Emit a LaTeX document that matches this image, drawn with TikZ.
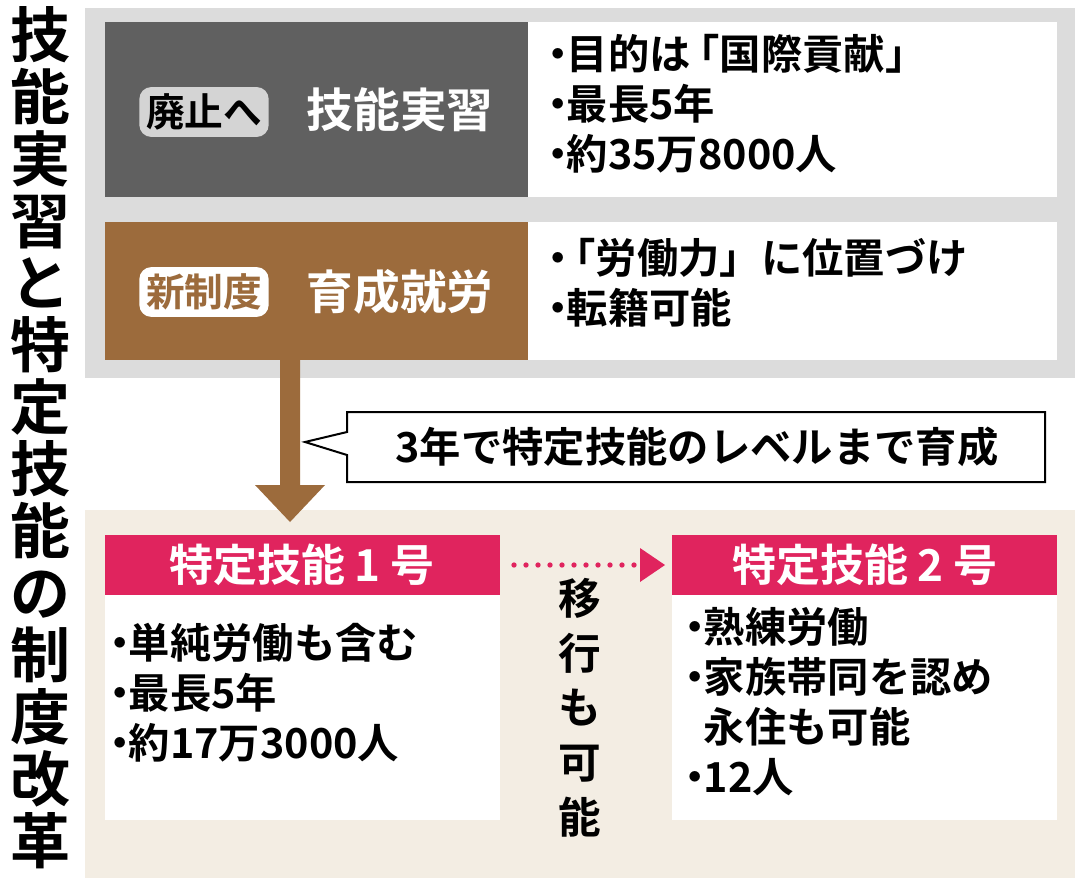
\documentclass[tikz,border=0pt]{standalone}
\usepackage{fontspec}
\newfontfamily\jp{Noto Sans CJK JP}[BoldFont={* Bold}]
\definecolor{bggray}{HTML}{DCDCDC}
\definecolor{dark}{HTML}{606060}
\definecolor{brown}{HTML}{9C6B3C}
\definecolor{beige}{HTML}{F3EDE3}
\definecolor{pink}{HTML}{E0245E}
\definecolor{lbl}{HTML}{D4D4D4}
\newcommand{\bul}{\kern-0.25em・\kern-0.3em}
\begin{document}
\begin{tikzpicture}[x=0.75pt,y=-0.75pt,
  body/.style={font=\jp\bfseries\fontsize{31}{37.5}\selectfont,align=left,anchor=north west,inner sep=0},
  head/.style={font=\jp\bfseries\fontsize{31}{36}\selectfont,text=white,inner sep=0}]
\useasboundingbox (0,0) rectangle (1080,878);
\fill[white] (0,0) rectangle (1080,878);
% title
\node[font=\jp\bfseries\fontsize{45}{46.5}\selectfont,align=center,inner sep=0,anchor=north] (title) at (40,6)
 {技\\能\\実\\習\\と\\特\\定\\技\\能\\の\\制\\度\\改\\革};
% top area
\fill[bggray] (85,8) rectangle (1075,378);
\fill[dark] (105,22) rectangle (528,197);
\fill[white] (528,22) rectangle (1057,197);
\fill[brown] (105,222) rectangle (528,360);
\fill[white] (528,222) rectangle (1057,360);
\node[fill=lbl,rounded corners=9pt,inner sep=5pt,font=\jp\bfseries\fontsize{29}{32}\selectfont] (l1) at (204,112) {廃止へ};
\node[head,font=\jp\bfseries\fontsize{35}{38}\selectfont] (h1) at (400,110) {技能実習};
\node[fill=white,text=brown,rounded corners=9pt,inner sep=5pt,font=\jp\bfseries\fontsize{29}{32}\selectfont] (l2) at (204,292) {新制度};
\node[head,font=\jp\bfseries\fontsize{35}{38}\selectfont] (h2) at (400,292) {育成就労};
\node[body] (t1) at (548,34) {\bul 目的は\kern-0.3em「国際貢献」\\\bul 最長5年\\\bul 約35万8000人};
\node[body] (t2) at (548,238) {\bul\kern-0.3em「労働力」に位置づけ\\\bul 転籍可能};
% bottom area
\fill[beige] (85,510) rectangle (1075,878);
\fill[brown] (280,360) -- (300,360) -- (300,485) -- (325,485) -- (290,522) -- (255,485) -- (280,485) -- cycle;
% callout
\draw[line width=1.5pt,fill=white] (347,412) -- (1045,412) -- (1045,482) -- (347,482) -- (347,455) -- (305,442) -- (347,432) -- cycle;
\node[font=\jp\bfseries\fontsize{31}{34}\selectfont,inner sep=0] (co) at (697,447) {3年で特定技能のレベルまで育成};
% boxes
\fill[pink] (105,535) rectangle (500,595);
\node[head,font=\jp\bfseries\fontsize{33}{36}\selectfont] (ph1) at (302,565) {特定技能 1 号};
\fill[white] (105,595) rectangle (500,820);
\node[body] (b1) at (110,623) {\bul 単純労働も含む\\\bul 最長5年\\\bul 約17万3000人};
\fill[pink] (672,535) rectangle (1057,595);
\node[head,font=\jp\bfseries\fontsize{33}{36}\selectfont] (ph2) at (865,565) {特定技能 2 号};
\fill[white] (672,595) rectangle (1057,820);
\node[body] (b2) at (685,607) {\bul 熟練労働\\\bul 家族帯同を認め\\\phantom{\bul}永住も可能\\\bul 12人};
\coordinate (d1) at (514,565);
\coordinate (d2) at (640,565);
\draw[pink,line width=4pt,dash pattern=on 0pt off 9pt,line cap=round] (d1) -- (d2);
\fill[pink] (640,548) -- (665,565) -- (640,582) -- cycle;
\node[font=\jp\bfseries\fontsize{32}{41}\selectfont,align=center,inner sep=0,anchor=north] (mv) at (580,578) {移\\行\\も\\可\\能};
\end{tikzpicture}
\end{document}
